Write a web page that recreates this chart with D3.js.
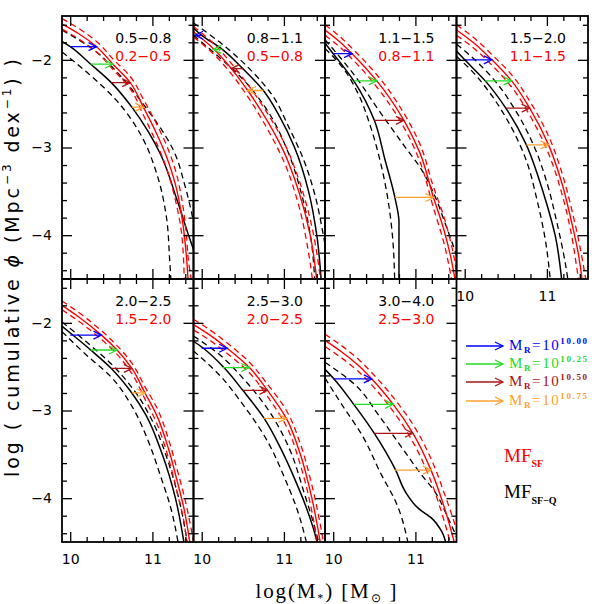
<!DOCTYPE html>
<html><head><meta charset="utf-8">
<script src="https://cdn.jsdelivr.net/npm/d3@7"></script>
<style>body{margin:0;background:#fff}</style>
</head><body><svg id="c" width="595" height="604"></svg>
<script>
// ---------- data ----------
const zBinsQ  = ["0.5−0.8","0.8−1.1","1.1−1.5","1.5−2.0","2.0−2.5","2.5−3.0","3.0−4.0"];
const zBinsSF = ["0.2−0.5","0.5−0.8","0.8−1.1","1.1−1.5","1.5−2.0","2.0−2.5","2.5−3.0"];
const massRefs = [10.00, 10.25, 10.50, 10.75];
const massRefLabels = ["10.00","10.25","10.50","10.75"];
const arrowColors = ["#0000ff","#22dd22","#a81414","#ffa030"];
const xDomain = [9.9, 11.5];
const yDomain = [-1.5, -4.5];
const xMajor = [10, 11];
const xMinor = [10.2,10.4,10.6,10.8,11.2,11.4];
const yMajor = [-2, -3, -4];
const yMinor = [-1.6,-1.8,-2.2,-2.4,-2.6,-2.8,-3.2,-3.4,-3.6,-3.8,-4.2,-4.4];

// MF_SF (red) solid + dashed bounds, per panel: [log M, log phi]
const redSolid = [
 [[9.9,-1.59],[10.1,-1.70],[10.32,-1.85],[10.52,-2.05],[10.73,-2.26],[10.89,-2.54],[11.05,-2.84],[11.17,-3.1],[11.28,-3.42],[11.36,-3.8],[11.41,-4.2],[11.44,-4.6]],
 [[9.9,-1.68],[10.14,-1.87],[10.36,-2.10],[10.56,-2.35],[10.8,-2.7],[11.0,-3.05],[11.18,-3.5],[11.32,-4.0],[11.41,-4.6]],
 [[9.9,-1.66],[10.05,-1.77],[10.23,-1.93],[10.53,-2.24],[10.86,-2.69],[11.05,-3.05],[11.22,-3.57],[11.35,-3.95],[11.43,-4.25],[11.5,-4.6]],
 [[9.9,-1.66],[10.1,-1.8],[10.33,-2.0],[10.57,-2.24],[10.79,-2.55],[11.02,-2.97],[11.18,-3.4],[11.3,-3.85],[11.38,-4.2],[11.44,-4.6]],
 [[9.9,-1.80],[10.1,-1.93],[10.38,-2.14],[10.57,-2.31],[10.75,-2.52],[10.91,-2.80],[11.05,-3.05],[11.2,-3.45],[11.3,-3.8],[11.38,-4.1],[11.47,-4.6]],
 [[9.9,-2.02],[10.1,-2.14],[10.31,-2.29],[10.58,-2.51],[10.80,-2.77],[11.03,-3.09],[11.2,-3.5],[11.34,-4.0],[11.46,-4.6]],
 [[9.9,-2.20],[10.1,-2.33],[10.3,-2.48],[10.47,-2.64],[10.73,-2.93],[10.97,-3.26],[11.19,-3.68],[11.35,-4.1],[11.5,-4.6]]
];
const redUpper = [
 [[9.9,-1.53],[10.1,-1.64],[10.32,-1.79],[10.52,-1.99],[10.73,-2.19],[10.89,-2.45],[11.05,-2.73],[11.17,-2.97],[11.28,-3.26],[11.36,-3.6],[11.41,-3.97],[11.44,-4.3],[11.49,-4.6]],
 [[9.9,-1.62],[10.14,-1.81],[10.36,-2.04],[10.56,-2.28],[10.8,-2.61],[11.0,-2.94],[11.18,-3.36],[11.32,-3.82],[11.46,-4.6]],
 [[9.9,-1.60],[10.05,-1.71],[10.23,-1.87],[10.53,-2.17],[10.86,-2.61],[11.05,-2.95],[11.22,-3.45],[11.35,-3.8],[11.43,-4.08],[11.52,-4.5]],
 [[9.9,-1.60],[10.1,-1.74],[10.33,-1.94],[10.57,-2.17],[10.79,-2.47],[11.02,-2.87],[11.18,-3.28],[11.3,-3.7],[11.38,-4.03],[11.49,-4.6]],
 [[9.9,-1.75],[10.1,-1.88],[10.38,-2.09],[10.57,-2.26],[10.75,-2.46],[10.91,-2.73],[11.05,-2.96],[11.2,-3.34],[11.3,-3.67],[11.38,-3.95],[11.52,-4.6]],
 [[9.9,-1.96],[10.1,-2.08],[10.31,-2.23],[10.58,-2.45],[10.80,-2.70],[11.03,-3.0],[11.2,-3.38],[11.34,-3.85],[11.5,-4.6]],
 [[9.9,-2.13],[10.1,-2.26],[10.3,-2.41],[10.47,-2.57],[10.73,-2.85],[10.97,-3.16],[11.19,-3.55],[11.35,-3.94],[11.55,-4.5]]
];
const redLower = [
 [[9.9,-1.65],[10.1,-1.76],[10.32,-1.91],[10.52,-2.11],[10.73,-2.33],[10.89,-2.63],[11.05,-2.95],[11.17,-3.23],[11.28,-3.6],[11.36,-4.02],[11.39,-4.6]],
 [[9.9,-1.74],[10.14,-1.93],[10.36,-2.16],[10.56,-2.42],[10.8,-2.79],[11.0,-3.16],[11.18,-3.66],[11.3,-4.2],[11.36,-4.6]],
 [[9.9,-1.72],[10.05,-1.83],[10.23,-1.99],[10.53,-2.31],[10.86,-2.77],[11.05,-3.15],[11.22,-3.69],[11.35,-4.1],[11.43,-4.45],[11.46,-4.6]],
 [[9.9,-1.72],[10.1,-1.86],[10.33,-2.06],[10.57,-2.31],[10.79,-2.63],[11.02,-3.07],[11.18,-3.52],[11.3,-4.0],[11.36,-4.35],[11.4,-4.6]],
 [[9.9,-1.85],[10.1,-1.98],[10.38,-2.19],[10.57,-2.36],[10.75,-2.58],[10.91,-2.87],[11.05,-3.14],[11.2,-3.56],[11.3,-3.93],[11.38,-4.25],[11.43,-4.6]],
 [[9.9,-2.08],[10.1,-2.20],[10.31,-2.35],[10.58,-2.57],[10.80,-2.84],[11.03,-3.18],[11.2,-3.62],[11.34,-4.15],[11.42,-4.6]],
 [[9.9,-2.27],[10.1,-2.40],[10.3,-2.55],[10.47,-2.71],[10.73,-3.01],[10.97,-3.36],[11.19,-3.81],[11.35,-4.26],[11.45,-4.6]]
];
// MF_SF-Q (black) solid + dashed bounds
const blackSolid = [
 [[9.9,-1.79],[10.0,-1.85],[10.25,-2.05],[10.5,-2.26],[10.75,-2.54],[10.95,-2.82],[11.1,-3.08],[11.3,-3.6],[11.44,-4.0],[11.55,-4.3]],
 [[9.9,-1.64],[10.0,-1.72],[10.25,-1.88],[10.5,-2.10],[10.75,-2.35],[10.95,-2.65],[11.13,-3.0],[11.3,-3.5],[11.4,-4.0],[11.46,-4.6]],
 [[9.9,-1.81],[10.0,-1.93],[10.25,-2.24],[10.5,-2.69],[10.63,-3.14],[10.75,-3.57],[10.80,-3.85],[10.80,-4.6]],
 [[9.9,-1.9],[10.0,-2.0],[10.25,-2.24],[10.5,-2.55],[10.75,-2.97],[10.9,-3.35],[11.0,-3.65],[11.1,-4.0],[11.19,-4.6]],
 [[9.9,-2.04],[10.02,-2.13],[10.25,-2.31],[10.5,-2.52],[10.75,-2.80],[10.92,-3.05],[11.12,-3.5],[11.28,-4.0],[11.4,-4.6]],
 [[9.9,-2.21],[10.02,-2.29],[10.27,-2.51],[10.5,-2.77],[10.76,-3.09],[10.97,-3.45],[11.14,-3.8],[11.27,-4.1],[11.36,-4.35],[11.43,-4.6]],
 [[9.9,-2.53],[10.01,-2.64],[10.25,-2.93],[10.5,-3.26],[10.76,-3.68],[10.88,-3.93],[11.04,-4.12],[11.2,-4.23],[11.32,-4.38],[11.39,-4.6]]
];
const blackUpper = [
 [[9.9,-1.66],[10.1,-1.77],[10.32,-1.91],[10.5,-2.07],[10.7,-2.28],[10.9,-2.52],[11.1,-2.78],[11.25,-3.02],[11.4,-3.45],[11.55,-4.1]],
 [[9.9,-1.58],[10.05,-1.68],[10.3,-1.86],[10.6,-2.12],[10.87,-2.42],[11.05,-2.75],[11.24,-3.14],[11.38,-3.55],[11.47,-3.95],[11.55,-4.4]],
 [[9.9,-1.77],[10.27,-2.19],[10.55,-2.57],[10.84,-2.95],[11.08,-3.26],[11.24,-3.56],[11.36,-3.86],[11.49,-4.2],[11.58,-4.45]],
 [[9.9,-1.82],[10.1,-1.98],[10.35,-2.22],[10.6,-2.55],[10.85,-3.0],[11.0,-3.4],[11.12,-3.85],[11.22,-4.3],[11.27,-4.6]],
 [[9.9,-1.99],[10.2,-2.22],[10.5,-2.47],[10.8,-2.8],[11.0,-3.12],[11.18,-3.55],[11.32,-4.0],[11.44,-4.6]],
 [[9.9,-2.15],[10.2,-2.35],[10.5,-2.63],[10.8,-2.98],[11.05,-3.4],[11.25,-3.95],[11.38,-4.35],[11.45,-4.6]],
 [[9.9,-2.45],[10.27,-2.71],[10.55,-3.05],[10.84,-3.43],[11.08,-3.74],[11.24,-3.93],[11.38,-4.19],[11.49,-4.42],[11.55,-4.55]]
];
const blackLower = [
 [[9.9,-1.91],[10.2,-2.14],[10.56,-2.46],[10.85,-2.84],[11.05,-3.29],[11.17,-3.79],[11.21,-4.28],[11.23,-4.6]],
 [[9.9,-1.72],[10.2,-1.96],[10.5,-2.22],[10.8,-2.58],[11.05,-3.05],[11.22,-3.55],[11.33,-4.05],[11.38,-4.6]],
 [[9.9,-1.87],[10.1,-2.07],[10.3,-2.38],[10.45,-2.75],[10.57,-3.15],[10.66,-3.56],[10.72,-4.0],[10.75,-4.6]],
 [[9.9,-1.96],[10.1,-2.14],[10.3,-2.37],[10.55,-2.74],[10.75,-3.15],[10.88,-3.6],[10.98,-4.05],[11.05,-4.6]],
 [[9.9,-2.10],[10.2,-2.37],[10.5,-2.62],[10.75,-2.95],[10.95,-3.35],[11.1,-3.75],[11.22,-4.1],[11.33,-4.6]],
 [[9.9,-2.32],[10.2,-2.58],[10.5,-2.93],[10.8,-3.35],[11.0,-3.75],[11.15,-4.1],[11.3,-4.6]],
 [[9.9,-2.63],[10.11,-2.94],[10.35,-3.28],[10.59,-3.74],[10.76,-4.04],[10.93,-4.6]]
];
// arrows: phi level (black curve at M_R) and end mass (red curve at same phi)
const arrowPhi = [
 [-1.85,-2.05,-2.26,-2.54],
 [-1.72,-1.88,-2.10,-2.35],
 [-1.93,-2.24,-2.69,-3.57],
 [-2.00,-2.24,-2.55,-2.97],
 [-2.14,-2.31,-2.52,-2.80],
 [-2.29,-2.51,-2.77,-3.09],
 [-2.64,-2.93,-3.26,-3.68]
];
const arrowEnd = [
 [10.32,10.52,10.73,10.89],
 [9.92,10.14,10.36,10.56],
 [10.23,10.53,10.86,11.22],
 [10.33,10.57,10.79,11.02],
 [10.38,10.57,10.75,10.91],
 [10.31,10.58,10.80,11.03],
 [10.47,10.73,10.97,11.19]
];

// ---------- drawing ----------
const svg = d3.select("#c");
const defs = svg.append("defs");
const PW = 131.5, PH = 263;
const lefts = [62, 193.5, 325, 456.5], tops = [16, 279];
const cells = [[0,0],[1,0],[2,0],[3,0],[0,1],[1,1],[2,1]];
const FONT = "DejaVu Sans";

function chevron(g, ex, ey, dir, color){
  g.append("path").attr("d", `M${ex-dir*8},${ey-4}L${ex},${ey}L${ex-dir*8},${ey+4}`)
   .attr("fill","none").attr("stroke",color).attr("stroke-width",1.3);
}
function styleAxis(sel){
  sel.select(".domain").remove();
  sel.selectAll(".tick line").attr("stroke","#000").attr("stroke-width",1.3);
  sel.attr("font-family",FONT).attr("font-size",14);
  sel.selectAll("text").attr("fill","#000");
}

cells.forEach(([c,r],i)=>{
  const L = lefts[c], T = tops[r];
  const x = d3.scaleLinear().domain(xDomain).range([L, L+PW]);
  const y = d3.scaleLinear().domain(yDomain).range([T, T+PH]);
  defs.append("clipPath").attr("id","cp"+i).append("rect")
      .attr("x",L).attr("y",T).attr("width",PW).attr("height",PH);
  const g = svg.append("g").attr("clip-path",`url(#cp${i})`);
  const line = d3.line().x(d=>x(d[0])).y(d=>y(d[1])).curve(d3.curveMonotoneY);
  const draw = (data,color,dash,w)=>g.append("path").attr("d",line(data))
      .attr("fill","none").attr("stroke",color).attr("stroke-width",w)
      .attr("stroke-dasharray",dash);
  draw(blackLower[i],"#000","6,4",1.3);
  draw(blackUpper[i],"#000","6,4",1.3);
  draw(blackSolid[i],"#000",null,1.5);
  draw(redLower[i],"#ff0000","6,4",1.3);
  draw(redUpper[i],"#ff0000","6,4",1.3);
  draw(redSolid[i],"#ff0000",null,1.4);

  massRefs.forEach((m,k)=>{
    const x0 = x(m), x1 = x(arrowEnd[i][k]), yy = y(arrowPhi[i][k]);
    g.append("line").attr("x1",x0).attr("x2",x1).attr("y1",yy).attr("y2",yy)
     .attr("stroke",arrowColors[k]).attr("stroke-width",1.3);
    chevron(g, x1, yy, x1>=x0?1:-1, arrowColors[k]);
  });

  // ticks on all four sides (inward)
  const ax = svg.append("g");
  const addAxis = (gen, tr, vals, size, fmt, pad)=>{
    const a = ax.append("g").attr("transform",tr)
      .call(gen.tickValues(vals).tickSize(size).tickFormat(fmt||"").tickPadding(pad||3));
    styleAxis(a);
    return a;
  };
  addAxis(d3.axisBottom(x), `translate(0,${T+PH})`, xMinor, -5);
  addAxis(d3.axisTop(x), `translate(0,${T})`, xMinor, -5);
  addAxis(d3.axisTop(x), `translate(0,${T})`, xMajor, -10);
  addAxis(d3.axisLeft(y), `translate(${L},0)`, yMinor, -5);
  addAxis(d3.axisRight(y), `translate(${L+PW},0)`, yMinor, -5);
  addAxis(d3.axisRight(y), `translate(${L+PW},0)`, yMajor, -10);
  const showX = (r===1) || (i===3);
  addAxis(d3.axisBottom(x), `translate(0,${T+PH})`, xMajor, -10, showX ? d3.format("d") : null, 12);
  const showY = (c===0);
  addAxis(d3.axisLeft(y), `translate(${L},0)`, yMajor, -10, showY ? d3.format("d") : null, 10);

  // frame
  svg.append("rect").attr("x",L).attr("y",T).attr("width",PW).attr("height",PH)
     .attr("fill","none").attr("stroke","#000").attr("stroke-width",1.8);

  // redshift labels
  svg.append("text").attr("x",L+PW-22).attr("y",T+27).attr("text-anchor","end")
     .attr("font-family",FONT).attr("font-size",14).attr("fill","#000").text(zBinsQ[i]);
  svg.append("text").attr("x",L+PW-22).attr("y",T+45).attr("text-anchor","end")
     .attr("font-family",FONT).attr("font-size",14).attr("fill","#ff0000").text(zBinsSF[i]);
});

// ---------- legend ----------
const legY = [346, 364, 382, 401];
massRefs.forEach((m,k)=>{
  const yy = legY[k];
  svg.append("line").attr("x1",466).attr("x2",503).attr("y1",yy).attr("y2",yy)
     .attr("stroke",arrowColors[k]).attr("stroke-width",1.3);
  chevron(svg, 503, yy, 1, arrowColors[k]);
  const t = svg.append("text").attr("x",509).attr("y",yy+4)
     .attr("font-family","Liberation Serif").attr("font-size",15).attr("fill",arrowColors[k])
     .attr("textLength",78).attr("lengthAdjust","spacing");
  t.append("tspan").text("M");
  t.append("tspan").attr("font-size",9).attr("font-weight","bold").attr("dy",3).text("R");
  t.append("tspan").attr("dy",-3).text("=10");
  t.append("tspan").attr("font-size",9).attr("font-weight","bold").attr("dy",-6).text(massRefLabels[k]);
});
const mf1 = svg.append("text").attr("x",504).attr("y",462).attr("font-family","Liberation Serif")
   .attr("font-size",19).attr("fill","#ff0000");
mf1.append("tspan").text("MF");
mf1.append("tspan").attr("font-size",10).attr("font-weight","bold").attr("dy",5).text("SF");
const mf2 = svg.append("text").attr("x",504).attr("y",498).attr("font-family","Liberation Serif")
   .attr("font-size",19).attr("fill","#000");
mf2.append("tspan").text("MF");
mf2.append("tspan").attr("font-size",10).attr("font-weight","bold").attr("dy",6).text("SF−Q");

// ---------- axis titles ----------
const yl = svg.append("text").attr("transform","translate(19,268) rotate(-90)")
  .attr("text-anchor","middle").attr("font-family",FONT).attr("font-size",19)
  .attr("textLength",418).attr("lengthAdjust","spacing");
yl.append("tspan").text("log ( cumulative ");
yl.append("tspan").attr("font-style","italic").text("ϕ");
yl.append("tspan").text(" (Mpc");
yl.append("tspan").attr("font-size",12).attr("dy",-8).text("−3");
yl.append("tspan").attr("dy",8).text(" dex");
yl.append("tspan").attr("font-size",12).attr("dy",-8).text("−1");
yl.append("tspan").attr("dy",8).text(") )");

const xl = svg.append("text").attr("x",326).attr("y",598).attr("text-anchor","middle")
  .attr("font-family","Liberation Serif").attr("font-size",21)
  .attr("textLength",141).attr("lengthAdjust","spacing");
xl.append("tspan").text("log(M");
xl.append("tspan").attr("font-size",12).attr("dy",4).text("*");
xl.append("tspan").attr("dy",-4).text(") [M");
xl.append("tspan").attr("font-size",12).attr("dy",4).text("⊙");
xl.append("tspan").attr("dy",-4).text(" ]");
</script></body></html>
